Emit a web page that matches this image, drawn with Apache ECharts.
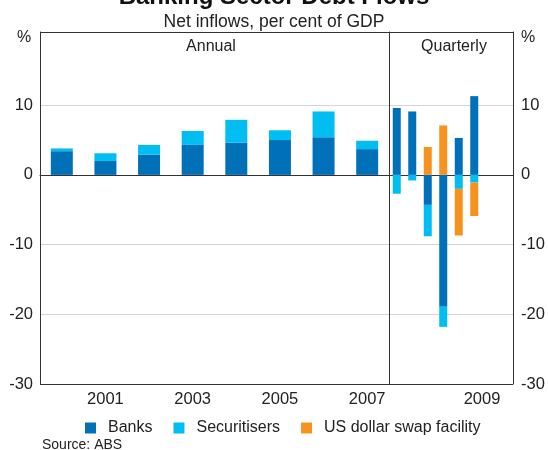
<!DOCTYPE html>
<html>
<head>
<meta charset="utf-8">
<script src="https://cdn.jsdelivr.net/npm/echarts@6/dist/echarts.min.js"></script>
<style>
  html, body { margin: 0; padding: 0; background: #fff; }
  #chart { width: 548px; height: 450px; }
</style>
</head>
<body>
<div id="chart"></div>
<script>
// annual data, per cent of GDP
const years = ['2000', '2001', '2002', '2003', '2004', '2005', '2006', '2007']
const banksAnnual = [3.4, 2.0, 2.9, 4.3, 4.6, 5.0, 5.4, 3.7]
const securAnnual = [0.4, 1.1, 1.4, 2.0, 3.3, 1.4, 3.7, 1.2]

// quarterly data (last two quarters empty)
const quarters = ['2008Q1', '2008Q2', '2008Q3', '2008Q4', '2009Q1', '2009Q2', '2009Q3', '2009Q4']
const banksQtr = [9.6, 9.1, -4.3, -18.9, 5.3, 11.3, null, null]
const securQtr = [-2.7, -0.8, -4.5, -2.9, -2.0, -1.1, null, null]
const swapQtr = [null, null, 4.0, 7.1, -6.7, -4.8, null, null]
const qtrYears = ['2008', '2009']

// frame sits a little above the 20 line
const yTicks = { min: -30, max: 20.5, interval: 10 }

const C_BANKS = '#0070b8'
const C_SEC = '#00bdf2'
const C_SWAP = '#f6921e'
const FONT = 'Liberation Sans, Arial, sans-serif'
const TXT = '#222'

const chart = echarts.init(document.getElementById('chart'))

// split line colours go -30, -20, -10, 0, 10, 20, 20.5(top frame)
const splitColors = ['#333', '#d4d4d4', '#d4d4d4', '#777', '#d4d4d4', 'rgba(0,0,0,0)', '#333']

const yLabel = {
  color: TXT,
  fontSize: 16.5,
  fontFamily: FONT,
  formatter: v => (v >= 20 ? '' : v)
}

const option = {
  animation: false,
  textStyle: { fontFamily: FONT },
  title: [
    {
      text: 'Banking Sector Debt Flows',
      left: 'center',
      top: -20,
      textStyle: { fontSize: 24, fontWeight: 'bold', color: '#111', fontFamily: FONT }
    },
    {
      text: 'Net inflows, per cent of GDP',
      left: 'center',
      top: 8,
      textStyle: { fontSize: 17.5, fontWeight: 'normal', color: TXT, fontFamily: FONT }
    },
    {
      text: 'Source: ABS',
      left: 37,
      top: 433,
      textStyle: { fontSize: 14, fontWeight: 'normal', color: TXT, fontFamily: FONT }
    }
  ],
  graphic: [
    { type: 'text', x: 211, y: 39, style: { text: 'Annual', font: '16px ' + FONT, fill: TXT, align: 'center', verticalAlign: 'top' } },
    { type: 'text', x: 454, y: 39, style: { text: 'Quarterly', font: '16px ' + FONT, fill: TXT, align: 'center', verticalAlign: 'top' } },
    { type: 'text', x: 24, y: 30, style: { text: '%', font: '16px ' + FONT, fill: TXT, align: 'center', verticalAlign: 'top' } },
    { type: 'text', x: 528, y: 30, style: { text: '%', font: '16px ' + FONT, fill: TXT, align: 'center', verticalAlign: 'top' } }
  ],
  legend: {
    data: ['Banks', 'Securitisers', 'US dollar swap facility'],
    left: 80,
    top: 415,
    icon: 'rect',
    itemWidth: 11,
    itemHeight: 11,
    itemGap: 21,
    textStyle: { fontSize: 16, color: TXT, fontFamily: FONT, padding: [0, 0, 0, 7] }
  },
  grid: [
    { left: 40, top: 32, width: 349, height: 352 },
    { left: 389, top: 32, width: 124, height: 352 }
  ],
  xAxis: [
    {
      gridIndex: 0,
      type: 'category',
      data: years,
      position: 'bottom',
      axisLine: { lineStyle: { color: '#333' } },
      axisTick: { inside: true, length: 7, interval: 0, lineStyle: { color: '#333' } },
      axisLabel: {
        interval: i => i % 2 === 1,
        color: TXT,
        fontSize: 16.5,
        margin: 7
      }
    },
    {
      gridIndex: 1,
      type: 'category',
      data: quarters,
      position: 'bottom',
      axisLine: { lineStyle: { color: '#333' } },
      axisTick: { show: false },
      axisLabel: { show: false }
    },
    {
      // year labels for the quarterly part
      gridIndex: 1,
      type: 'category',
      data: qtrYears,
      position: 'bottom',
      axisLine: { show: false },
      axisTick: { inside: true, length: 7, interval: 0, lineStyle: { color: '#333' } },
      axisLabel: {
        interval: 0,
        formatter: v => (v === '2009' ? v : ''),
        color: TXT,
        fontSize: 16.5,
        margin: 7
      }
    }
  ],
  yAxis: [
    {
      gridIndex: 0,
      type: 'value',
      ...yTicks,
      position: 'left',
      axisLine: { show: true, lineStyle: { color: '#333' } },
      axisTick: { show: false },
      axisLabel: { ...yLabel, margin: 7 },
      splitLine: { lineStyle: { color: splitColors, width: 1 } }
    },
    {
      // divider between annual and quarterly
      gridIndex: 0,
      type: 'value',
      ...yTicks,
      position: 'right',
      axisLine: { show: true, lineStyle: { color: '#333' } },
      axisTick: { show: false },
      axisLabel: { show: false },
      splitLine: { show: false }
    },
    {
      gridIndex: 1,
      type: 'value',
      ...yTicks,
      position: 'right',
      axisLine: { show: true, lineStyle: { color: '#333' } },
      axisTick: { show: false },
      axisLabel: { ...yLabel, margin: 8 },
      splitLine: { lineStyle: { color: splitColors, width: 1 } }
    }
  ],
  series: [
    {
      name: 'Banks', type: 'bar', stack: 'a', xAxisIndex: 0, yAxisIndex: 0,
      barWidth: 22, data: banksAnnual, itemStyle: { color: C_BANKS }
    },
    {
      name: 'Securitisers', type: 'bar', stack: 'a', xAxisIndex: 0, yAxisIndex: 0,
      barWidth: 22, data: securAnnual, itemStyle: { color: C_SEC }
    },
    {
      name: 'Banks', type: 'bar', stack: 'q', xAxisIndex: 1, yAxisIndex: 2,
      barWidth: 8, data: banksQtr, itemStyle: { color: C_BANKS }
    },
    {
      name: 'Securitisers', type: 'bar', stack: 'q', xAxisIndex: 1, yAxisIndex: 2,
      barWidth: 8, data: securQtr, itemStyle: { color: C_SEC }
    },
    {
      name: 'US dollar swap facility', type: 'bar', stack: 'q', xAxisIndex: 1, yAxisIndex: 2,
      barWidth: 8, data: swapQtr, itemStyle: { color: C_SWAP }
    }
  ]
}

chart.setOption(option)
</script>
</body>
</html>
